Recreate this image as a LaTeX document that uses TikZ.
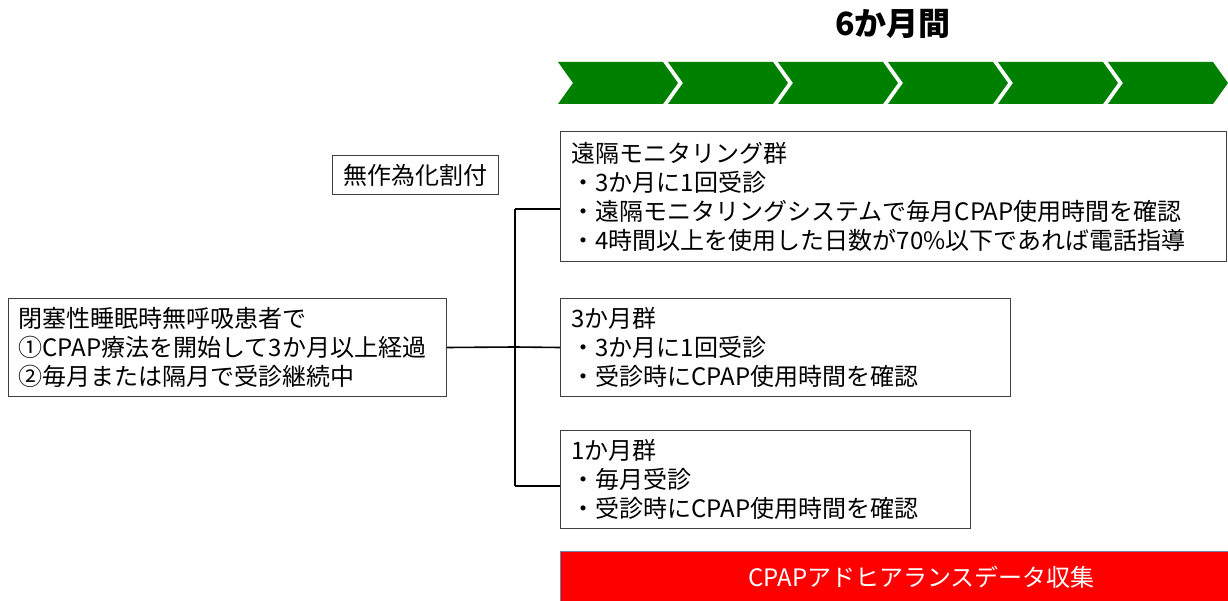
\documentclass[tikz,border=0pt]{standalone}
\usepackage{fontspec}
\newfontfamily\jp{Noto Sans CJK JP}
\usetikzlibrary{calc}
\definecolor{chev}{RGB}{0,128,0}
\definecolor{barline}{RGB}{110,130,165}
\begin{document}
\begin{tikzpicture}[x=1pt,y=-1pt,
  box/.style={draw=black!75, line width=1pt, anchor=north west, align=left,
    inner xsep=11pt, inner ysep=0pt, font={\jp\fontsize{24}{29}\selectfont}},
  conn/.style={line width=1.6pt, black}]
\useasboundingbox (0,0) rectangle (1228,601);
% title
\node[font={\jp\bfseries\fontsize{32}{36}\selectfont}] (title) at (893,24) {6か月間};
% chevrons
\foreach \i in {0,...,5}
  \fill[chev] ({558+110*\i},62) -- ++(105,0) -- ++(15,21) -- ++(-15,21) -- ++(-105,0) -- ++(15,-21) -- cycle;
% boxes
\node[box, text width=644pt, minimum height=130pt] (R) at (560,131) {遠隔モニタリング群\\・3か月に1回受診\\・遠隔モニタリングシステムで毎月CPAP使用時間を確認\\・4時間以上を使用した日数が70\%以下であれば電話指導};
\node[box, text width=428pt, minimum height=98pt] (M) at (560,298) {3か月群\\・3か月に1回受診\\・受診時にCPAP使用時間を確認};
\node[box, text width=388pt, minimum height=98pt] (S) at (560,430) {1か月群\\・毎月受診\\・受診時にCPAP使用時間を確認};
\node[box, inner xsep=10pt, text width=418pt, minimum height=98pt] (L) at (8,298) {閉塞性睡眠時無呼吸患者で\\①CPAP療法を開始して3か月以上経過\\②毎月または隔月で受診継続中};
\node[box, align=center, inner xsep=0pt, minimum width=166pt, minimum height=39pt] (rand) at (332,155) {無作為化割付};
% connectors
\coordinate (j) at (515,347);
\coordinate (jt) at (515,209);
\coordinate (jb) at (515,486);
\draw[conn] (L.east) -- (j) -- (M.west);
\draw[conn] (jt) -- (jb);
\draw[conn] (jt) -- (jt -| R.west);
\draw[conn] (jb) -- (jb -| S.west);
% red bar
\node[fill=red, draw=barline, line width=1pt, anchor=north west, minimum width=668pt, minimum height=52pt, inner sep=0pt] (bar) at (560,551) {};
\node[text=white, font={\jp\fontsize{24}{29}\selectfont}] (bartext) at ($(bar.center)+(27,0)$) {CPAPアドヒアランスデータ収集};
\end{tikzpicture}
\end{document}
